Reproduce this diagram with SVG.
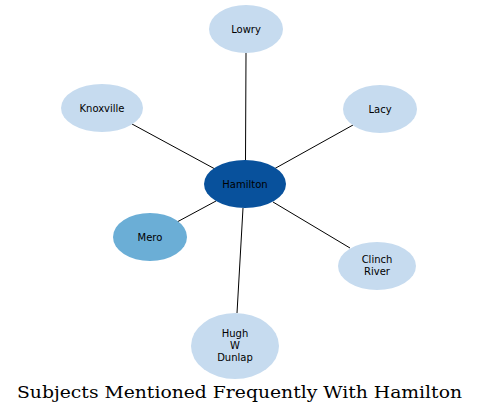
<svg xmlns="http://www.w3.org/2000/svg" width="479" height="416" viewBox="0 0 479 416">
<style>
.n text{font-family:"DejaVu Sans",sans-serif;font-size:10px;text-anchor:middle;fill:#000}
.l{fill:#c6dbef}
.e line{stroke:#000;stroke-width:1}
.t{font-family:"DejaVu Serif",serif;font-size:17.5px;text-anchor:middle}
</style>
<rect width="479" height="416" fill="#fff"/>
<g class="e" id="edges">
<line x1="246" y1="53" x2="245.5" y2="160"/>
<line x1="132" y1="124" x2="215" y2="169"/>
<line x1="353" y1="125" x2="274" y2="169"/>
<line x1="177" y1="222" x2="216" y2="201"/>
<line x1="350" y1="248" x2="273" y2="202"/>
<line x1="237" y1="313" x2="243" y2="208"/>
</g>
<g class="n" id="hamilton"><ellipse cx="245" cy="184" rx="41" ry="24" fill="#08519c"/><text x="245" y="187.5">Hamilton</text></g>
<g class="n" id="lowry"><ellipse class="l" cx="246" cy="29" rx="37" ry="24"/><text x="246" y="32.5">Lowry</text></g>
<g class="n" id="knoxville"><ellipse class="l" cx="102" cy="108" rx="41" ry="24"/><text x="102" y="111.5">Knoxville</text></g>
<g class="n" id="lacy"><ellipse class="l" cx="380" cy="109" rx="37" ry="24"/><text x="380" y="112.5">Lacy</text></g>
<g class="n" id="mero"><ellipse cx="150" cy="237" rx="37" ry="24" fill="#6baed6"/><text x="150" y="240.5">Mero</text></g>
<g class="n" id="clinch"><ellipse class="l" cx="377" cy="266" rx="39" ry="24"/><text x="377" y="263">Clinch</text><text x="377" y="275">River</text></g>
<g class="n" id="hugh"><ellipse class="l" cx="235" cy="346" rx="44" ry="33"/><text x="235" y="337">Hugh</text><text x="235" y="349">W</text><text x="235" y="361">Dunlap</text></g>
<text class="t" x="239.5" y="398" textLength="445" lengthAdjust="spacingAndGlyphs">Subjects Mentioned Frequently With Hamilton</text>
</svg>
